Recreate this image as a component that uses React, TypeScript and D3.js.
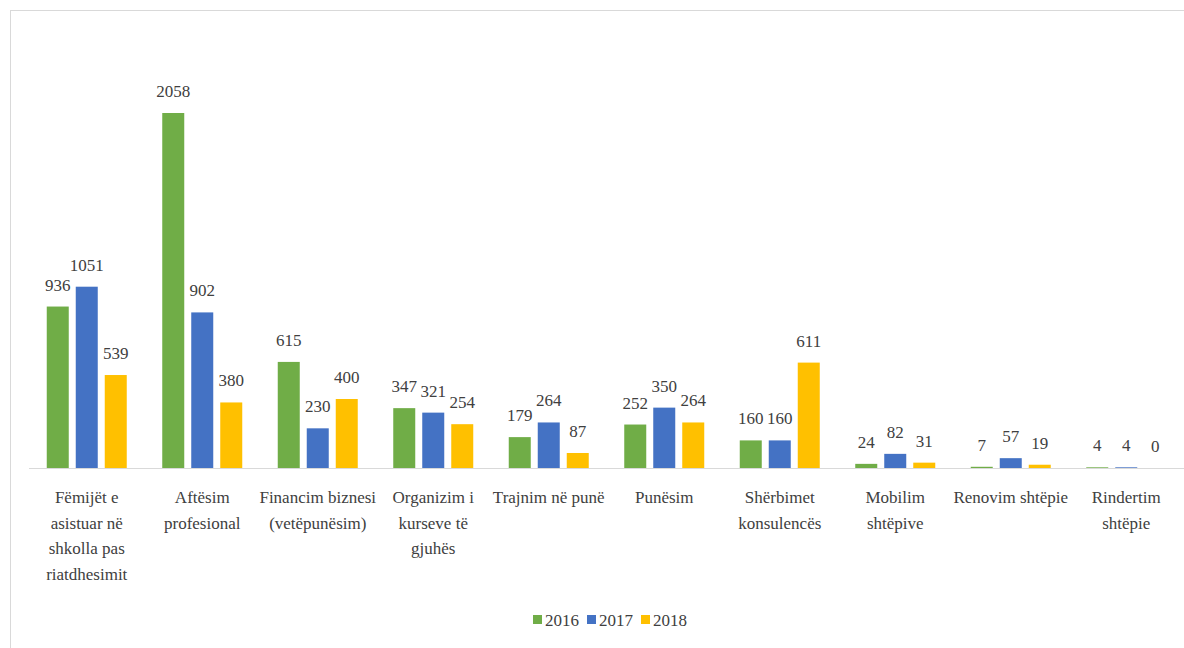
import React from "react";
import * as d3 from "d3";

const categories: string[][] = [
  ["Fëmijët e", "asistuar në", "shkolla pas", "riatdhesimit"],
  ["Aftësim", "profesional"],
  ["Financim biznesi", "(vetëpunësim)"],
  ["Organizim i", "kurseve të", "gjuhës"],
  ["Trajnim në punë"],
  ["Punësim"],
  ["Shërbimet", "konsulencës"],
  ["Mobilim", "shtëpive"],
  ["Renovim shtëpie"],
  ["Rindertim", "shtëpie"],
];
const years = ["2016", "2017", "2018"];
const v2016 = [936, 2058, 615, 347, 179, 252, 160, 24, 7, 4];
const v2017 = [1051, 902, 230, 321, 264, 350, 160, 82, 57, 4];
const v2018 = [539, 380, 400, 254, 87, 264, 611, 31, 19, 0];
const colors = ["#70ad47", "#4472c4", "#ffc000"];

export default function App() {
  const W = 1184, H = 648;
  const series = [v2016, v2017, v2018];
  const x0 = d3.scaleBand<number>().domain(d3.range(categories.length)).range([29, 1184]);
  const groupW = 80;
  const x1 = d3.scaleBand<number>().domain([0, 1, 2]).range([0, groupW]).paddingInner(7 / 29);
  const y = d3.scaleLinear().domain([0, 2058]).range([468, 113]);
  const fs = 17;
  const textColor = "#404040";
  const font = "Liberation Serif";
  return (
    <svg width={W} height={H} style={{ display: "block", position: "absolute", left: 0, top: 0, background: "#fff" }}>
      <rect x={10.5} y={10.5} width={W + 10} height={H + 10} fill="#fff" stroke="#d9d9d9" strokeWidth={1} />
      <line x1={29} x2={1184} y1={y(0) + 0.5} y2={y(0) + 0.5} stroke="#d9d9d9" strokeWidth={1} />
      {categories.map((_, ci) => {
        const gx = (x0(ci) as number) + (x0.bandwidth() - groupW) / 2;
        return (
          <g key={ci}>
            {series.map((s, si) => {
              const v = s[ci];
              const bx = gx + (x1(si) as number);
              const bw = x1.bandwidth();
              return (
                <g key={si}>
                  {v > 0 && (
                    <rect x={bx} y={y(v)} width={bw} height={y(0) - y(v)} fill={colors[si]} />
                  )}
                  <text x={bx + bw / 2} y={y(v) - 16} textAnchor="middle" fontFamily={font} fontSize={fs} fill={textColor}>
                    {String(v)}
                  </text>
                </g>
              );
            })}
            <text textAnchor="middle" fontFamily={font} fontSize={fs} fill={textColor}>
              {categories[ci].map((line, li) => (
                <tspan key={li} x={(x0(ci) as number) + x0.bandwidth() / 2} y={503 + li * 25.5}>
                  {line}
                </tspan>
              ))}
            </text>
          </g>
        );
      })}
      {years.map((yr, i) => {
        const lx = 533 + i * 54;
        return (
          <g key={yr}>
            <rect x={lx} y={615} width={9} height={9} fill={colors[i]} />
            <text x={lx + 12} y={626} fontFamily={font} fontSize={fs} fill={textColor}>
              {yr}
            </text>
          </g>
        );
      })}
    </svg>
  );
}
